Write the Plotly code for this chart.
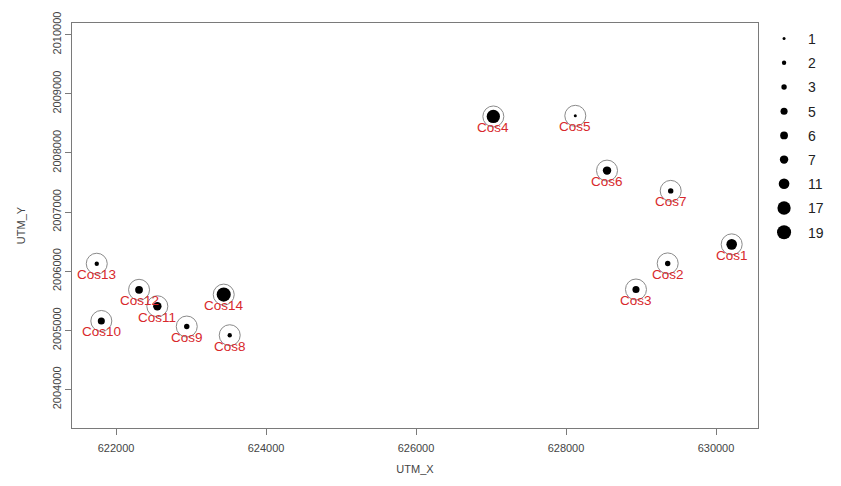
import plotly.graph_objects as go

# Station names, UTM coordinates and counts
stations = ["Cos1", "Cos2", "Cos3", "Cos4", "Cos5", "Cos6", "Cos7",
            "Cos8", "Cos9", "Cos10", "Cos11", "Cos12", "Cos13", "Cos14"]
utm_x = [630209, 629356, 628933, 627031, 628124, 628547, 629396,
         623516, 622943, 621804, 622551, 622307, 621743, 623436]
utm_y = [2006454, 2006132, 2005691, 2008616, 2008627, 2007701, 2007358,
         2004918, 2005065, 2005159, 2005408, 2005686, 2006127, 2005605]
counts = [11, 3, 5, 17, 1, 7, 3,
          2, 3, 5, 7, 6, 2, 19]

# Legend classes (distinct counts)
legend_values = [1, 2, 3, 5, 6, 7, 11, 17, 19]

x_ticks = [622000, 624000, 626000, 628000, 630000]
y_ticks = [2004000, 2005000, 2006000, 2007000, 2008000, 2009000, 2010000]

FONT = "Liberation Sans, Arial, sans-serif"
LABEL_RED = "#D8282C"
AXIS_GREY = "#7a7a7a"


def dot_size(v):
    # marker diameter grows with the square root of the count
    return 3 + (v ** 0.5 - 1) * 3.3


fig = go.Figure()

# open grey rings around every station
fig.add_trace(go.Scatter(
    x=utm_x, y=utm_y, mode="markers", showlegend=False, hoverinfo="skip",
    marker=dict(symbol="circle-open", size=21,
                line=dict(color="#8a8a8a", width=1), color="#8a8a8a"),
))

# filled dots, one trace per count class (also builds the legend)
for v in legend_values:
    xs = [x for x, c in zip(utm_x, counts) if c == v]
    ys = [y for y, c in zip(utm_y, counts) if c == v]
    fig.add_trace(go.Scatter(
        x=xs, y=ys, mode="markers", name=str(v), legendgroup=str(v),
        marker=dict(color="black", size=dot_size(v), line=dict(width=0)),
    ))

# station names below the dots
for name, x, y in zip(stations, utm_x, utm_y):
    fig.add_annotation(x=x, y=y, text=name, showarrow=False,
                       yanchor="middle", xanchor="center", yshift=-11,
                       font=dict(family=FONT, size=13.5, color=LABEL_RED))

axis_common = dict(
    showgrid=False, zeroline=False,
    showline=True, mirror=True, linecolor=AXIS_GREY, linewidth=1,
    ticks="outside", ticklen=6, tickcolor=AXIS_GREY, tickwidth=1,
    tickfont=dict(family=FONT, size=11, color="#444444"),
    title_font=dict(family=FONT, size=11, color="#444444"),
)

fig.update_layout(
    width=841, height=486,
    margin=dict(l=72, r=83, t=15, b=52),
    paper_bgcolor="white", plot_bgcolor="white",
    xaxis=dict(range=[621413, 630560], tickvals=x_ticks,
               ticktext=[str(t) for t in x_ticks], ticklabelstandoff=4,
               title=dict(text="UTM_X", standoff=12), **axis_common),
    yaxis=dict(range=[2003350, 2010196], tickvals=y_ticks,
               ticktext=[str(t) for t in y_ticks], tickangle=-90,
               title=dict(text="UTM_Y", standoff=22), **axis_common),
    legend=dict(x=1.003, xanchor="left", y=1.0, yanchor="top",
                font=dict(family=FONT, size=14, color="#222222"),
                tracegroupgap=3, itemsizing="trace", itemwidth=38,
                bgcolor="rgba(0,0,0,0)", borderwidth=0),
)

fig.write_html("out.html")
